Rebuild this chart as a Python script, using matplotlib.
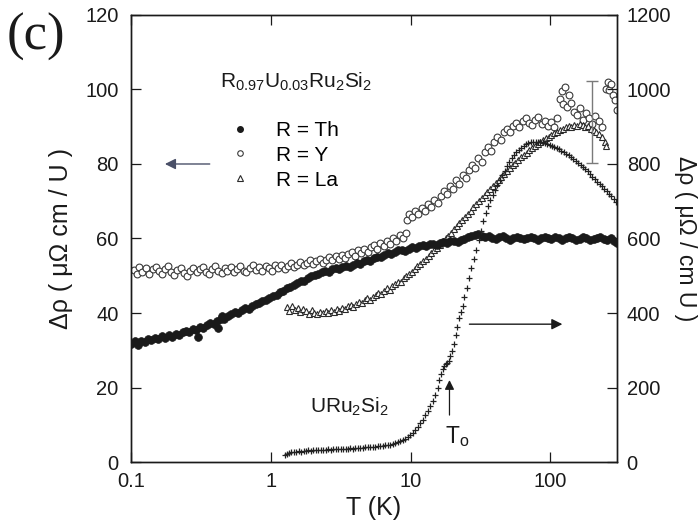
import matplotlib
matplotlib.use("Agg")
import matplotlib.pyplot as plt
from matplotlib.lines import Line2D

plt.rcParams["font.family"] = ["Liberation Sans", "DejaVu Sans"]
plt.rcParams["mathtext.fontset"] = "custom"
plt.rcParams["mathtext.rm"] = "Liberation Sans"
plt.rcParams["mathtext.it"] = "Liberation Sans:italic"
plt.rcParams["mathtext.default"] = "regular"

# ---- R = Th (left axis, uOhm cm / U) ----
T_th = [0.100, 0.106, 0.112, 0.118, 0.125, 0.132, 0.140, 0.148, 0.157, 0.166,
        0.176, 0.186, 0.197, 0.209, 0.221, 0.234, 0.248, 0.262, 0.278, 0.294,
        0.300, 0.311, 0.330, 0.349, 0.370, 0.391, 0.414, 0.420, 0.439, 0.450,
        0.465, 0.492, 0.521, 0.552, 0.584, 0.619, 0.655, 0.694, 0.735, 0.778,
        0.824, 0.873, 0.924, 0.979, 1.04, 1.10, 1.16, 1.23, 1.30, 1.38,
        1.46, 1.55, 1.64, 1.73, 1.84, 1.95, 2.06, 2.18, 2.31, 2.45,
        2.59, 2.75, 2.91, 3.08, 3.26, 3.46, 3.66, 3.88, 4.11, 4.35,
        4.61, 4.88, 5.17, 5.47, 5.80, 6.14, 6.50, 6.89, 7.29, 7.72,
        8.18, 8.66, 9.17, 9.72, 10.3, 10.9, 11.5, 12.2, 12.9, 13.7,
        14.5, 15.4, 16.3, 17.2, 18.3, 19.3, 20.5, 21.7, 23.0, 24.3,
        25.8, 27.3, 28.9, 30.6, 32.4, 34.3, 36.4, 38.5, 40.8, 43.2,
        45.8, 48.5, 51.4, 54.4, 57.6, 61.0, 64.6, 68.4, 72.5, 76.8,
        81.3, 86.1, 91.2, 96.6, 102, 108, 115, 121, 129, 136,
        144, 153, 162, 171, 181, 192, 204, 216, 228, 242,
        256, 271, 287, 298]
rho_th = [31.8, 32.4, 31.5, 32.6, 32.2, 33.0, 32.7, 33.3, 33.0, 33.8,
          33.4, 34.0, 33.6, 34.3, 34.0, 34.8, 35.2, 35.0, 35.8, 35.5,
          33.6, 36.2, 36.0, 36.8, 37.2, 37.0, 37.9, 36.0, 38.3, 39.3,
          38.4, 39.2, 39.6, 40.2, 40.0, 40.9, 41.3, 41.2, 42.0, 42.4,
          42.6, 43.2, 43.6, 43.9, 44.5, 44.9, 45.6, 45.9, 46.6, 47.0,
          47.4, 48.0, 48.6, 48.5, 49.3, 49.8, 50.1, 50.6, 50.9, 51.2,
          51.0, 51.7, 52.0, 51.8, 52.4, 52.6, 52.3, 53.0, 53.4, 53.2,
          53.9, 54.2, 54.0, 54.7, 55.1, 55.0, 55.6, 56.0, 55.8, 56.5,
          56.8, 57.0, 56.7, 57.3, 57.6, 57.4, 57.9, 58.2, 57.9, 58.4,
          58.6, 58.3, 58.8, 59.0, 58.7, 59.2, 59.4, 59.1, 59.6, 59.9,
          60.3, 60.6, 60.9, 61.2, 60.8, 60.4, 60.7, 60.2, 59.8, 60.3,
          60.6, 60.1, 59.7, 60.0, 60.4, 60.1, 59.8, 60.2, 60.5, 60.0,
          59.7, 60.1, 60.4, 60.2, 59.9, 60.3, 60.0, 59.7, 60.1, 60.4,
          60.0, 59.7, 59.9, 60.3, 60.0, 59.6, 59.9, 60.2, 60.4, 59.9,
          59.6, 60.0, 59.3, 58.9]

# ---- R = Y (left axis) ----
T_y = [0.105, 0.110, 0.115, 0.120, 0.128, 0.135, 0.143, 0.150, 0.158, 0.166,
       0.175, 0.184, 0.194, 0.204, 0.215, 0.227, 0.239, 0.250, 0.265, 0.280,
       0.295, 0.310, 0.325, 0.345, 0.360, 0.380, 0.400, 0.420, 0.445, 0.470,
       0.490, 0.520, 0.545, 0.575, 0.605, 0.640, 0.670, 0.710, 0.745, 0.785,
       0.830, 0.870, 0.920, 0.970, 1.02, 1.07, 1.13, 1.19, 1.26, 1.32,
       1.39, 1.47, 1.55, 1.63, 1.72, 1.81, 1.91, 2.01, 2.12, 2.24,
       2.36, 2.49, 2.62, 2.76, 2.91, 3.07, 3.23, 3.41, 3.59, 3.79,
       3.99, 4.21, 4.44, 4.68, 4.93, 5.20, 5.48, 5.78, 6.09, 6.42,
       6.77, 7.13, 7.52, 7.93, 8.36, 8.80, 9.30, 9.40, 9.80, 10.3,
       10.8, 11.4, 12.0, 12.6, 13.3, 14.0, 14.8, 15.6, 16.4, 17.3,
       18.2, 19.2, 20.2, 21.3, 22.4, 23.6, 24.9, 26.2, 27.6, 29.1,
       30.6, 32.3, 34.0, 35.8, 37.7, 39.7, 41.8, 44.1, 46.4, 48.9,
       51.5, 54.3, 57.2, 60.2, 63.4, 66.8, 70.4, 74.1, 78.1, 82.2,
       86.6, 91.2, 96.1, 101, 107, 112, 118, 121, 124, 127,
       131, 136, 141, 148, 155, 163, 171, 180, 190, 200,
       210, 222, 234, 250, 258, 265, 272, 280, 290, 298]
rho_y = [51.5, 50.5, 52.3, 51.0, 52.0, 50.6, 51.8, 52.4, 51.2, 50.4,
         51.9, 52.5, 51.0, 50.3, 51.6, 52.2, 50.8, 49.8, 51.4, 52.0,
         50.9, 51.7, 52.3, 51.1, 50.5, 51.8, 52.5, 51.2, 50.8, 52.0,
         51.3, 52.4, 51.0, 51.9, 52.6, 51.4, 50.9, 52.1, 52.8, 51.6,
         52.3, 51.2, 52.7, 52.0, 51.4, 52.8, 52.2, 53.0, 51.9, 52.6,
         53.3, 52.3, 53.0, 53.6, 52.8, 53.4, 54.1, 53.2, 53.9, 54.6,
         53.5, 54.3, 55.0, 54.1, 55.2, 54.5, 55.6, 54.8, 55.9, 56.5,
         55.4, 56.8, 56.0, 57.2, 56.4, 57.7, 58.3, 57.2, 58.8, 58.0,
         59.3, 58.6, 60.1, 59.4, 61.0, 60.2, 61.5, 65.0, 66.5, 65.8,
         67.4, 66.6, 68.2, 67.3, 69.3, 68.5, 70.4, 69.6, 71.5, 72.8,
         71.9, 74.0, 73.2, 75.6, 74.6, 77.0, 76.2, 78.4, 79.6, 78.8,
         81.5, 80.6, 83.2, 84.5, 83.6, 86.0, 87.3, 86.4, 88.5, 89.4,
         88.6, 90.2, 91.0, 89.8, 91.5, 92.3, 91.1, 90.4, 91.8, 92.6,
         90.8, 91.6, 90.3, 91.2, 89.8, 92.4, 97.5, 99.5, 96.0, 100.8,
         95.2, 98.5, 96.3, 94.0, 93.2, 95.0, 91.8, 93.6, 92.4, 90.8,
         92.8, 91.5, 90.0, 100.2, 102.0, 99.8, 101.5, 98.5, 97.2, 94.5]

# ---- R = La (left axis) ----
T_la = [1.30, 1.36, 1.42, 1.49, 1.56, 1.63, 1.71, 1.79, 1.87, 1.96,
        2.05, 2.15, 2.25, 2.36, 2.47, 2.58, 2.70, 2.83, 2.96, 3.10,
        3.25, 3.40, 3.56, 3.73, 3.90, 4.09, 4.28, 4.48, 4.69, 4.91,
        5.14, 5.38, 5.63, 5.90, 6.17, 6.46, 6.77, 7.08, 7.42, 7.76,
        8.13, 8.51, 8.91, 9.33, 9.77, 10.2, 10.7, 11.2, 11.7, 12.3,
        12.9, 13.5, 14.1, 14.8, 15.5, 16.2, 17.0, 17.8, 18.6, 19.5,
        20.4, 21.4, 22.4, 23.4, 24.5, 25.7, 26.9, 28.2, 29.5, 30.9,
        32.4, 33.9, 35.5, 37.2, 38.9, 40.7, 42.7, 44.7, 46.8, 49.0,
        51.3, 53.7, 56.2, 58.9, 61.7, 64.6, 67.6, 70.8, 74.1, 77.6,
        81.3, 85.1, 89.1, 93.3, 97.7, 102, 107, 112, 117, 123,
        129, 135, 141, 148, 155, 162, 170, 178, 186, 195,
        204, 214, 224, 234, 245, 252]
rho_la = [41.5, 40.6, 41.8, 40.9, 41.4, 40.2, 41.0, 40.5, 39.8, 40.7,
          40.1, 39.6, 40.4, 39.9, 40.6, 40.0, 40.8, 40.3, 41.1, 40.6,
          41.4, 41.0, 41.8, 42.2, 41.7, 42.5, 43.0, 42.6, 43.4, 43.9,
          43.6, 44.4, 44.9, 45.4, 45.1, 46.0, 46.6, 46.3, 47.3, 47.9,
          48.4, 48.2, 49.3, 50.0, 50.6, 51.1, 51.9, 52.6, 53.2, 54.0,
          54.6, 55.3, 56.1, 56.8, 57.5, 58.3, 59.2, 60.0, 60.8, 61.6,
          62.5, 63.4, 64.2, 65.1, 65.8, 66.7, 67.5, 68.4, 69.2, 70.0,
          70.8, 71.7, 72.5, 73.3, 74.2, 74.9, 75.8, 76.6, 77.3, 78.1,
          78.9, 79.6, 80.4, 81.0, 81.8, 82.4, 83.0, 83.7, 84.2, 84.9,
          85.4, 86.0, 86.5, 87.0, 87.3, 87.8, 88.3, 88.5, 89.0, 89.4,
          89.8, 90.2, 90.0, 90.6, 90.3, 90.8, 90.4, 89.9, 90.2, 89.5,
          89.0, 88.6, 88.1, 87.3, 86.0, 84.8]

# ---- URu2Si2 (right axis, uOhm / cm U) ----
T_u = [1.26, 1.30, 1.35, 1.40, 1.46, 1.52, 1.58, 1.65, 1.72, 1.79,
       1.86, 1.94, 2.02, 2.10, 2.19, 2.28, 2.37, 2.47, 2.57, 2.68,
       2.79, 2.91, 3.03, 3.16, 3.29, 3.43, 3.57, 3.72, 3.88, 4.04,
       4.21, 4.38, 4.57, 4.76, 4.96, 5.17, 5.38, 5.61, 5.84, 6.09,
       6.34, 6.61, 6.88, 7.17, 7.47, 7.78, 8.11, 8.45, 8.80, 9.17,
       9.55, 9.95, 10.4, 10.8, 11.3, 11.7, 12.2, 12.7, 13.3, 13.8,
       14.4, 15.0, 15.6, 16.1, 16.6, 17.1, 17.5, 17.9, 18.3, 18.8,
       19.3, 19.8, 20.4, 21.0, 21.6, 22.3, 23.0, 23.7, 24.3, 25.3,
       26.3, 27.3, 28.4, 29.5, 30.7, 31.9, 33.2, 34.5, 35.9, 37.3,
       38.8, 40.3, 41.9, 43.6, 45.3, 47.1, 49.0, 51.0, 53.0, 55.1,
       57.3, 59.6, 62.0, 64.5, 67.0, 69.7, 72.5, 75.4, 78.4, 81.5,
       84.7, 88.1, 91.6, 95.3, 99.1, 103, 107, 111, 116, 120,
       125, 130, 135, 141, 146, 152, 158, 165, 171, 178,
       185, 193, 200, 208, 217, 225, 234, 244, 253, 263,
       274, 285, 296]
rho_u = [19, 22, 25, 27, 26, 28, 29, 28, 30, 29,
         31, 30, 32, 31, 32, 33, 32, 33, 34, 33,
         34, 35, 34, 35, 36, 35, 36, 37, 36, 37,
         38, 37, 38, 39, 39, 40, 41, 41, 42, 43,
         44, 45, 46, 47, 49, 51, 53, 56, 59, 63,
         68, 73, 79, 86, 95, 104, 114, 125, 137, 150,
         163, 180, 200, 220, 236, 250, 258, 262, 266, 272,
         284, 298, 318, 340, 362, 386, 404, 420, 442, 468,
         494, 520, 546, 570, 596, 620, 648, 668, 688, 704,
         718, 730, 744, 758, 770, 782, 795, 806, 816, 825,
         832, 838, 844, 849, 853, 856, 858, 859, 860, 860,
         859, 858, 856, 854, 851, 849, 846, 843, 840, 836,
         832, 828, 824, 819, 814, 809, 804, 798, 792, 786,
         780, 773, 766, 760, 753, 746, 740, 733, 727, 720,
         713, 706, 699]

# representative error bar on the R = Y data
err_T = [200]
err_lo = [80.3]
err_hi = [102.4]

x_ticks = [0.1, 1, 10, 100]
x_ticklabels = ["0.1", "1", "10", "100"]
left_ticks = [0, 20, 40, 60, 80, 100, 120]
right_ticks = [0, 200, 400, 600, 800, 1000, 1200]

ink = "#1a1a1a"
fig = plt.figure(figsize=(7.0, 5.24), dpi=100)
ax = fig.add_axes([0.1871, 0.1183, 0.6943, 0.8531])
ax2 = ax.twinx()

ax.set_xscale("log")
ax.set_xlim(0.1, 300)
ax.set_ylim(0, 120)
ax2.set_ylim(0, 1200)

ax.plot(T_th, rho_th, ls="none", marker="o", ms=5.6, mfc=ink, mec=ink, mew=0.5, zorder=3)
ax.plot(T_y, rho_y, ls="none", marker="o", ms=4.9, mfc="white", mec="#3a3a3a", mew=0.8, zorder=2)
ax.plot(T_la, rho_la, ls="none", marker="^", ms=4.6, mfc="white", mec="#2a2a2a", mew=0.8, zorder=2)
ax2.plot(T_u, rho_u, ls="none", marker="+", ms=5.0, mec="#222222", mew=0.9, zorder=2)

mid = [(lo + hi) / 2 for lo, hi in zip(err_lo, err_hi)]
half = [(hi - lo) / 2 for lo, hi in zip(err_lo, err_hi)]
ax.errorbar(err_T, mid, yerr=half, fmt="none", ecolor="#7a7a7a", elinewidth=1.0,
            capsize=4, capthick=1.0, zorder=4)

# axes styling
for a in (ax, ax2):
    for s in a.spines.values():
        s.set_color(ink)
        s.set_linewidth(1.0)
ax.set_xticks(x_ticks)
ax.set_xticklabels(x_ticklabels)
ax.set_yticks(left_ticks)
ax2.set_yticks(right_ticks)
ax.tick_params(axis="x", which="major", direction="in", top=True, length=7, width=0.9,
               pad=7, labelsize=14.5, colors=ink)
ax.tick_params(axis="x", which="minor", direction="in", top=True, length=4, width=0.8)
ax.tick_params(axis="y", which="both", direction="in", left=True, right=False, length=7,
               width=0.9, pad=9, labelsize=14.5, colors=ink)
ax2.tick_params(axis="y", which="both", direction="in", right=True, length=7, width=0.9,
                pad=7, labelsize=14.5, colors=ink)
ax2.minorticks_off()

ax.set_xlabel("T (K)", fontsize=18, color=ink, labelpad=4)
ax.set_ylabel("Δρ ( μΩ cm / U )", fontsize=18, color=ink)
ax.yaxis.set_label_coords(-0.12, 0.5)
ax2.set_ylabel("Δρ ( μΩ / cm U )", fontsize=16.5, color=ink, rotation=-90, va="bottom")
ax2.yaxis.set_label_coords(1.118, 0.5)

# annotations
ax.text(0.433, 100.4, "R$_{0.97}$U$_{0.03}$Ru$_2$Si$_2$", fontsize=15, color=ink,
        ha="left", va="baseline")
ax.text(1.9, 13.2, "URu$_2$Si$_2$", fontsize=15, color=ink, ha="left", va="baseline")
ax.text(17.6, 5.0, "T$_o$", fontsize=16.5, color=ink, ha="left", va="baseline")
fig.text(0.010, 0.930, "(c)", fontsize=38, family="Liberation Serif", color=ink,
         ha="left", va="center")

ax.annotate("", xy=(0.175, 80), xytext=(0.366, 80),
            arrowprops=dict(arrowstyle="-|>", color="#4a5068", lw=1.0,
                            mutation_scale=16, shrinkA=0, shrinkB=0))
ax.annotate("", xy=(122, 37), xytext=(26.4, 37),
            arrowprops=dict(arrowstyle="-|>", color=ink, lw=1.0,
                            mutation_scale=16, shrinkA=0, shrinkB=0))
ax.annotate("", xy=(19.0, 22.0), xytext=(19.0, 12.6),
            arrowprops=dict(arrowstyle="-|>", color=ink, lw=0.9,
                            mutation_scale=14, shrinkA=0, shrinkB=0))

handles = [
    Line2D([], [], ls="none", marker="o", ms=4.0, mfc=ink, mec=ink),
    Line2D([], [], ls="none", marker="o", ms=4.0, mfc="white", mec="#3a3a3a", mew=0.8),
    Line2D([], [], ls="none", marker="^", ms=4.0, mfc="white", mec="#2a2a2a", mew=0.8),
]
ax.legend(handles, ["R = Th", "R = Y", "R = La"], loc="upper left",
          bbox_to_anchor=(0.207, 0.763), frameon=False, fontsize=15,
          handlelength=0.8, handletextpad=1.35, labelspacing=0.28,
          borderpad=0, borderaxespad=0)

fig.savefig("out.png", dpi=100, facecolor="white")
